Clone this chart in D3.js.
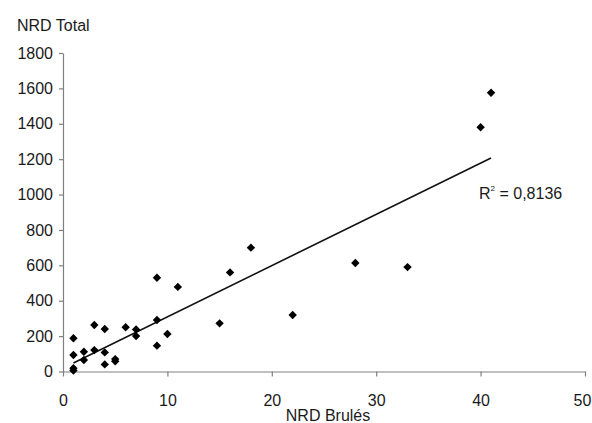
<!DOCTYPE html>
<html>
<head>
<meta charset="utf-8">
<script src="https://cdn.jsdelivr.net/npm/d3@7"></script>
<style>
  html, body { margin: 0; padding: 0; background: #fff; }
  svg { display: block; font-family: "Liberation Sans", Arial, sans-serif; }
</style>
</head>
<body>
<svg id="chart" width="592" height="423"></svg>
<script>
// Data
const burned = [1, 1, 1, 1, 2, 2, 3, 3, 4, 4, 4, 5, 5, 6, 7, 7, 9, 9, 9, 10, 11, 15, 16, 18, 22, 28, 33, 40, 41];
const total  = [188, 93, 18, 5, 112, 65, 263, 121, 240, 108, 40, 70, 58, 250, 238, 200, 530, 291, 146, 212, 478, 272, 560, 700, 319, 613, 590, 1380, 1575];
const xTicks = [0, 10, 20, 30, 40, 50];
const yTicks = [0, 200, 400, 600, 800, 1000, 1200, 1400, 1600, 1800];
const xTitle = "NRD Brulés";
const yTitle = "NRD Total";
const r2Label = "0,8136";

const points = burned.map((b, i) => ({ x: b, y: total[i] }));

const svg = d3.select("#chart");
const margin = { left: 63, right: 7, top: 53, bottom: 51.5 };
const W = 592, H = 423;

const x = d3.scaleLinear().domain([0, 50]).range([margin.left, W - margin.right]);
const y = d3.scaleLinear().domain([0, 1800]).range([H - margin.bottom, margin.top]);

svg.append("rect").attr("width", W).attr("height", H).attr("fill", "#fff");

const axisColor = "#808080";
const textColor = "#1a1a1a";

// X axis
const gx = svg.append("g")
  .attr("transform", `translate(0,${y(0)})`)
  .call(d3.axisBottom(x).tickValues(xTicks).tickFormat(d3.format("d"))
    .tickSize(5).tickPadding(18).tickSizeOuter(0));
// Y axis
const gy = svg.append("g")
  .attr("transform", `translate(${x(0)},0)`)
  .call(d3.axisLeft(y).tickValues(yTicks).tickFormat(d3.format("d"))
    .tickSize(4).tickPadding(6).tickSizeOuter(0));

[gx, gy].forEach(g => {
  g.select(".domain").attr("stroke", axisColor).attr("stroke-width", 1.2);
  g.selectAll(".tick line").attr("stroke", axisColor).attr("stroke-width", 1.2);
  g.selectAll(".tick text").attr("fill", textColor).attr("font-size", 16)
    .attr("font-family", "'Liberation Sans', Arial, sans-serif");
});
// keep the last x label inside the picture
gx.selectAll(".tick text").filter(d => d === xTicks[xTicks.length - 1]).attr("dx", -3);

// Linear regression (least squares) from the data
const mx = d3.mean(points, d => d.x), my = d3.mean(points, d => d.y);
const sxy = d3.sum(points, d => (d.x - mx) * (d.y - my));
const sxx = d3.sum(points, d => (d.x - mx) ** 2);
const slope = sxy / sxx, intercept = my - slope * mx;
const [xmin, xmax] = d3.extent(points, d => d.x);

svg.append("line")
  .attr("x1", x(xmin)).attr("y1", y(intercept + slope * xmin))
  .attr("x2", x(xmax)).attr("y2", y(intercept + slope * xmax))
  .attr("stroke", "#111").attr("stroke-width", 1.6);

// Points (diamond markers)
svg.append("g").selectAll("path").data(points).join("path")
  .attr("transform", d => `translate(${x(d.x)},${y(d.y)})`)
  .attr("d", "M0,-4.2L4.2,0L0,4.2L-4.2,0Z")
  .attr("fill", "#000");

// Titles
svg.append("text").attr("x", 17).attr("y", 30.5)
  .attr("font-size", 16).attr("fill", textColor).text(yTitle);
svg.append("text").attr("x", (x(0) + x(50)) / 2 + 4).attr("y", 421)
  .attr("text-anchor", "middle")
  .attr("font-size", 16).attr("fill", textColor).text(xTitle);

// R² label
const r2 = svg.append("text").attr("x", 479).attr("y", 199)
  .attr("font-size", 16).attr("fill", textColor);
r2.append("tspan").text("R");
r2.append("tspan").attr("font-size", 8).attr("dy", -8).text("2");
r2.append("tspan").attr("dy", 8).text(" = " + r2Label);
</script>
</body>
</html>
